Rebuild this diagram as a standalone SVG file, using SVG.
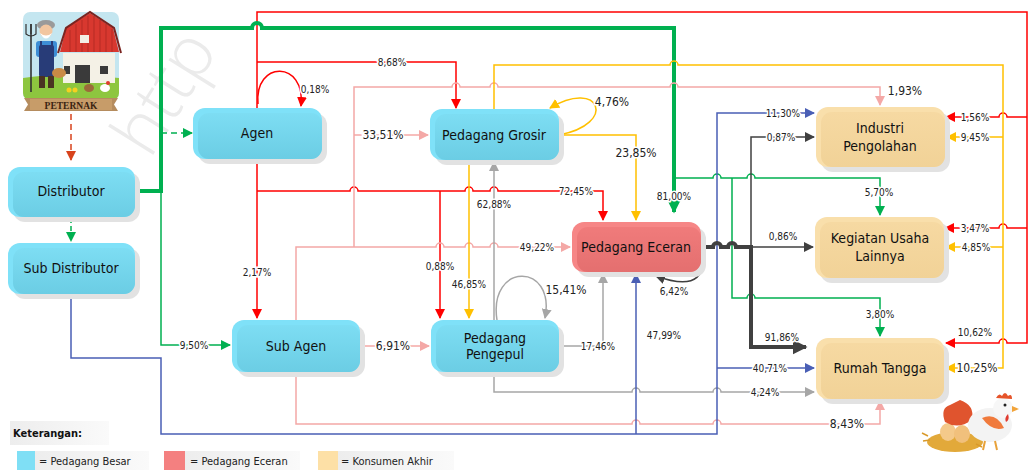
<svg xmlns="http://www.w3.org/2000/svg" width="1030" height="470" viewBox="0 0 1030 470">
  <defs>
    <style>
      .nt { font-family: 'DejaVu Sans Condensed', 'Liberation Sans', sans-serif; font-size: 14px; fill: #111; text-anchor: middle; }
      .lb { font-family: 'DejaVu Sans Condensed', 'Liberation Sans', sans-serif; font-size: 10px; fill: #222; text-anchor: middle; paint-order: stroke; stroke: #fff; stroke-width: 3px; }
      .lb.big { font-size: 12px; }
      .lg { font-family: 'DejaVu Sans Condensed', 'Liberation Sans', sans-serif; font-size: 11px; fill: #222; }
      .c { fill: none; stroke-width: 1.5; stroke-linejoin: miter; }
      .red { stroke: #FF0000; }
      .pink { stroke: #F4A8A6; }
      .yel { stroke: #FFC000; }
      .grn { stroke: #00B050; }
      .gry { stroke: #A6A6A6; }
      .blu { stroke: #4A5FB5; }
      .drk { stroke: #404040; }
      .shadow { fill: #E2E2E2; }
    </style>
    <linearGradient id="gBlue" x1="0" y1="0" x2="0" y2="1">
      <stop offset="0" stop-color="#7DDDF3"/>
      <stop offset="1" stop-color="#6BCDE4"/>
    </linearGradient>
    <linearGradient id="gRed" x1="0" y1="0" x2="0" y2="1">
      <stop offset="0" stop-color="#F07B7B"/>
      <stop offset="1" stop-color="#E46F6F"/>
    </linearGradient>
    <linearGradient id="gTan" x1="0" y1="0" x2="0" y2="1">
      <stop offset="0" stop-color="#F6D9A2"/>
      <stop offset="1" stop-color="#F1D297"/>
    </linearGradient>
    <linearGradient id="gLeg" x1="0" y1="0" x2="1" y2="0">
      <stop offset="0" stop-color="#EDEDED"/>
      <stop offset="1" stop-color="#FAFAFA"/>
    </linearGradient>
    <marker id="mRed" viewBox="0 0 10 10" refX="9" refY="5" markerWidth="10" markerHeight="10" markerUnits="userSpaceOnUse" orient="auto"><path d="M0,0 L10,5 L0,10 z" fill="#FF0000"/></marker>
    <marker id="mPink" viewBox="0 0 10 10" refX="9" refY="5" markerWidth="10" markerHeight="10" markerUnits="userSpaceOnUse" orient="auto"><path d="M0,0 L10,5 L0,10 z" fill="#F4A8A6"/></marker>
    <marker id="mYel" viewBox="0 0 10 10" refX="9" refY="5" markerWidth="10" markerHeight="10" markerUnits="userSpaceOnUse" orient="auto"><path d="M0,0 L10,5 L0,10 z" fill="#FFC000"/></marker>
    <marker id="mGrn" viewBox="0 0 10 10" refX="9" refY="5" markerWidth="10" markerHeight="10" markerUnits="userSpaceOnUse" orient="auto"><path d="M0,0 L10,5 L0,10 z" fill="#00B050"/></marker>
    <marker id="mGry" viewBox="0 0 10 10" refX="9" refY="5" markerWidth="10" markerHeight="10" markerUnits="userSpaceOnUse" orient="auto"><path d="M0,0 L10,5 L0,10 z" fill="#A6A6A6"/></marker>
    <marker id="mBlu" viewBox="0 0 10 10" refX="9" refY="5" markerWidth="10" markerHeight="10" markerUnits="userSpaceOnUse" orient="auto"><path d="M0,0 L10,5 L0,10 z" fill="#4A5FB5"/></marker>
    <marker id="mDrk" viewBox="0 0 10 10" refX="9" refY="5" markerWidth="10" markerHeight="10" markerUnits="userSpaceOnUse" orient="auto"><path d="M0,0 L10,5 L0,10 z" fill="#404040"/></marker>
    <marker id="mOrg" viewBox="0 0 10 10" refX="9" refY="5" markerWidth="10" markerHeight="10" markerUnits="userSpaceOnUse" orient="auto"><path d="M0,0 L10,5 L0,10 z" fill="#D8431C"/></marker>
    <marker id="mGrnBig" viewBox="0 0 10 10" refX="9" refY="5" markerWidth="15" markerHeight="15" markerUnits="userSpaceOnUse" orient="auto"><path d="M0,0 L10,5 L0,10 z" fill="#00B050"/></marker>
    <marker id="mDrkBig" viewBox="0 0 10 10" refX="9" refY="5" markerWidth="15" markerHeight="15" markerUnits="userSpaceOnUse" orient="auto"><path d="M0,0 L10,5 L0,10 z" fill="#404040"/></marker>
  </defs>

  <rect width="1030" height="470" fill="#FFFFFF"/>

  <!-- faint background lettering -->
  <text transform="translate(150,160) rotate(-58)" font-family="'Open Sans', 'Liberation Sans', sans-serif" font-weight="300" font-size="70" fill="#EBEBEB">http</text>

  <!-- farmer badge -->
  <g id="peternak">
    <rect x="23" y="12" width="96" height="88" rx="7" fill="#C4E6F0"/>
    <path d="M23,78 Q60,72 119,78 V93 a7,7 0 0 1 -7,7 H30 a7,7 0 0 1 -7,-7 z" fill="#8DC63F"/>
    <path d="M60,52 L66,28 L90,13 L113,28 L119,52 z" fill="#D8382F"/>
    <path d="M70,30 V52 M76,24 V52 M82,20 V52 M88,16 V52 M94,16 V52 M100,20 V52 M106,24 V52 M112,29 V52" stroke="#B52A24" stroke-width="1"/>
    <path d="M58,53 L66,28 L90,12 L114,28 L121,53" fill="none" stroke="#7A2420" stroke-width="2"/>
    <rect x="80" y="35" width="9" height="8" fill="#F3EFE5"/>
    <rect x="63" y="53" width="52" height="30" fill="#F4F1E6"/>
    <rect x="75" y="65" width="15" height="18" fill="#3A3A3A"/>
    <rect x="100" y="66" width="8" height="8" fill="#3A3A3A"/>
    <rect x="64" y="66" width="6" height="8" fill="#3A3A3A"/>
    <!-- pitchfork -->
    <path d="M31,24 V92" stroke="#333" stroke-width="1.6"/>
    <path d="M26,24 V34 Q31,38 36,34 V24 M31,24 V34" fill="none" stroke="#333" stroke-width="1.2"/>
    <!-- farmer -->
    <ellipse cx="46" cy="25" rx="9" ry="5" fill="#9A9A9A"/>
    <circle cx="46" cy="31" r="6.5" fill="#F2C6A0"/>
    <path d="M40,33 Q46,44 52,33 Q46,38 40,33 z" fill="#FFFFFF"/>
    <rect x="36" y="41" width="21" height="16" rx="3" fill="#3D8ED6"/>
    <rect x="39" y="45" width="15" height="32" rx="2" fill="#283C78"/>
    <path d="M41,41 V47 M52,41 V47" stroke="#283C78" stroke-width="2"/>
    <rect x="39" y="76" width="6" height="12" fill="#4A3322"/>
    <rect x="48" y="76" width="6" height="12" fill="#4A3322"/>
    <ellipse cx="59" cy="73" rx="7" ry="5" fill="#C98A45"/>
    <circle cx="69" cy="90" r="2.5" fill="#F5D020"/>
    <circle cx="75" cy="90" r="2.5" fill="#F5D020"/>
    <ellipse cx="89" cy="88" rx="5" ry="4" fill="#9C6A3A"/>
    <ellipse cx="105" cy="88" rx="5" ry="4" fill="#FFFFFF"/>
    <circle cx="108" cy="83" r="2" fill="#E03A2F"/>
    <!-- ribbon -->
    <path d="M24,98 H118 L114,104.5 L118,111 H24 L28,104.5 z" fill="#B58C5E"/>
    <rect x="30" y="99" width="82" height="11" fill="#C79C69"/>
    <text x="71" y="108.5" text-anchor="middle" font-family="'Liberation Serif', serif" font-weight="bold" font-size="9.5" fill="#3B2412">PETERNAK</text>
  </g>

  <!-- hen on nest -->
  <g id="ayam">
    <ellipse cx="955" cy="442" rx="28" ry="10" fill="#E2A93A"/>
    <path d="M928,436 l-6,-3 M930,440 l-7,1 M980,438 l7,-2 M976,444 l6,3" stroke="#D99A2B" stroke-width="1.5"/>
    <ellipse cx="948" cy="432" rx="8" ry="9" fill="#F4C98A"/>
    <ellipse cx="962" cy="434" rx="8" ry="9" fill="#F1C07C"/>
    <path d="M950,405 Q940,408 945,422 Q958,430 972,420 Q975,405 960,400 z" fill="#E0542E"/>
    <ellipse cx="990" cy="425" rx="22" ry="17" fill="#F3F3F3"/>
    <path d="M982,418 Q996,412 1004,428 Q992,432 982,418 z" fill="#F07A3C"/>
    <circle cx="1003" cy="408" r="10" fill="#F7F7F7"/>
    <path d="M996,398 q3,-6 6,-2 q3,-6 6,0 q4,-3 4,3 z" fill="#E6542A"/>
    <path d="M1012,406 l7,3 l-7,3 z" fill="#F2A43A"/>
    <circle cx="1005" cy="405" r="1.5" fill="#222"/>
    <path d="M1008,414 q2,6 -2,8 q-2,-4 2,-8 z" fill="#E03A2F"/>
    <path d="M985,441 l-2,9 M995,441 l2,9" stroke="#E8A23A" stroke-width="2"/>
  </g>

  <!-- connectors -->
  <g id="connectors">
    <!-- source flows -->
    <path class="c" d="M71,114 V160" stroke="#D8431C" stroke-dasharray="6,4" marker-end="url(#mOrg)"/>
    <path class="c grn" d="M71,218 V241" stroke-dasharray="5,3" marker-end="url(#mGrn)"/>
    <path class="c grn" d="M161,133 H192" stroke-dasharray="6,4" marker-end="url(#mGrn)"/>

    <!-- red: Agen -->
    <path class="c red" d="M257,108 V12 H1027 V343 H1007 a4,4 0 0 0 -8,0 H946" marker-end="url(#mRed)"/>
    <path class="c red" d="M1027,117 H1007 a4,4 0 0 0 -8,0 H946" marker-end="url(#mRed)"/>
    <path class="c red" d="M1027,228 H1007 a4,4 0 0 0 -8,0 H945" marker-end="url(#mRed)"/>
    <path class="c red" d="M257,62 H456 V108" marker-end="url(#mRed)"/>
    <path class="c red" d="M257,158 V318" marker-end="url(#mRed)"/>
    <path class="c red" d="M257,191 H350 a4,4 0 0 1 8,0 H465 a4,4 0 0 1 8,0 H490 a4,4 0 0 1 8,0 H603 V220" marker-end="url(#mRed)"/>
    <path class="c red" d="M440,191 V318" marker-end="url(#mRed)"/>
    <path class="c red" d="M258,104 C254,60 306,60 301,106" marker-end="url(#mRed)"/>

    <!-- thick green: Distributor -->
    <path class="grn" fill="none" stroke-width="4" d="M135,191 H161 V28 H252 a5,5 0 0 1 10,0 H674 V212" marker-end="url(#mGrnBig)"/>
    <path class="c grn" d="M161,191 V345 H230" marker-end="url(#mGrn)"/>
    <path class="c grn" d="M674,178 H713 a4,4 0 0 1 8,0 H747 a4,4 0 0 1 8,0 H880 V215" marker-end="url(#mGrn)"/>
    <path class="c grn" d="M732,178 V298 H747 a4,4 0 0 1 8,0 H880 V336" marker-end="url(#mGrn)"/>

    <!-- pink: Sub Agen -->
    <path class="c pink" d="M296,320 V247 H436 a4,4 0 0 1 8,0 H465 a4,4 0 0 1 8,0 H490 a4,4 0 0 1 8,0 H570" marker-end="url(#mPink)"/>
    <path class="c pink" d="M354,247 V87 H452 a4,4 0 0 1 8,0 H490 a4,4 0 0 1 8,0 H670 a4,4 0 0 1 8,0 H880 V105" marker-end="url(#mPink)"/>
    <path class="c pink" d="M354,135 H428" marker-end="url(#mPink)"/>
    <path class="c pink" d="M360,346 H429" marker-end="url(#mPink)"/>
    <path class="c pink" d="M296,372 V424 H632 a4,4 0 0 1 8,0 H713 a4,4 0 0 1 8,0 H880 V401" marker-end="url(#mPink)"/>

    <!-- yellow: Pedagang Grosir -->
    <path class="c yel" d="M494,110 V65 H670 a4,4 0 0 1 8,0 H1003 V368 H946" marker-end="url(#mYel)"/>
    <path class="c yel" d="M1003,137 H947" marker-end="url(#mYel)"/>
    <path class="c yel" d="M1003,247 H946" marker-end="url(#mYel)"/>
    <path class="c yel" d="M559,135 H636 V220" marker-end="url(#mYel)"/>
    <path class="c yel" d="M469,160 V318" marker-end="url(#mYel)"/>
    <path class="c yel" d="M559,135 C618,124 600,78 550,108" marker-end="url(#mYel)"/>

    <!-- gray: Pedagang Pengepul -->
    <path class="c gry" d="M494,320 V162" marker-end="url(#mGry)"/>
    <path class="c gry" d="M559,346 H603 V274" marker-end="url(#mGry)"/>
    <path class="c gry" d="M494,372 V392 H632 a4,4 0 0 1 8,0 H713 a4,4 0 0 1 8,0 H814" marker-end="url(#mGry)"/>
    <path class="c gry" d="M497,320 C488,262 556,262 545,318" marker-end="url(#mGry)"/>

    <!-- blue: Sub Distributor -->
    <path class="c blu" d="M71,294 V358 H161 V434 H717 V113 H814" marker-end="url(#mBlu)"/>
    <path class="c blu" d="M636,434 V274" marker-end="url(#mBlu)"/>
    <path class="c blu" d="M717,368 H814" marker-end="url(#mBlu)"/>

    <!-- dark: Pedagang Eceran -->
    <path class="drk" fill="none" stroke-width="4" d="M701,247 H713 a4,4 0 0 1 8,0 H728 a4,4 0 0 1 8,0 H751 V347 H806" marker-end="url(#mDrkBig)"/>
    <path class="c drk" d="M751,247 H813" marker-end="url(#mDrk)"/>
    <path class="c drk" d="M751,247 V137 H814" marker-end="url(#mDrk)"/>
    <path class="c drk" d="M701,251 C706,272 700,292 656,276" marker-end="url(#mDrk)"/>

    <!-- percentages -->
    <text class="lb" x="315" y="93">0,18%</text>
    <text class="lb" x="392" y="66">8,68%</text>
    <text class="lb big" x="383" y="139">33,51%</text>
    <text class="lb big" x="612" y="106">4,76%</text>
    <text class="lb big" x="636" y="157">23,85%</text>
    <text class="lb" x="576" y="195">72,45%</text>
    <text class="lb" x="494" y="208">62,88%</text>
    <text class="lb" x="674" y="200">81,00%</text>
    <text class="lb" x="537" y="251">49,22%</text>
    <text class="lb" x="257" y="276">2,17%</text>
    <text class="lb" x="440" y="270">0,88%</text>
    <text class="lb" x="469" y="288">46,85%</text>
    <text class="lb big" x="566" y="294">15,41%</text>
    <text class="lb" x="674" y="295">6,42%</text>
    <text class="lb" x="194" y="349">9,50%</text>
    <text class="lb big" x="393" y="350">6,91%</text>
    <text class="lb" x="598" y="350">17,46%</text>
    <text class="lb" x="664" y="339">47,99%</text>
    <text class="lb big" x="905" y="95">1,93%</text>
    <text class="lb" x="783" y="117">11,30%</text>
    <text class="lb" x="781" y="141">0,87%</text>
    <text class="lb" x="879" y="196">5,70%</text>
    <text class="lb" x="783" y="240">0,86%</text>
    <text class="lb" x="880" y="318">3,80%</text>
    <text class="lb" x="782" y="341">91,86%</text>
    <text class="lb" x="770" y="372">40,71%</text>
    <text class="lb" x="765" y="396">4,24%</text>
    <text class="lb big" x="847" y="428">8,43%</text>
    <text class="lb" x="975" y="121">1,56%</text>
    <text class="lb" x="975" y="141">9,45%</text>
    <text class="lb" x="975" y="232">3,47%</text>
    <text class="lb" x="976" y="251">4,85%</text>
    <text class="lb" x="975" y="336">10,62%</text>
    <text class="lb big" x="977" y="372">10,25%</text>
  </g>

  <!-- wholesale traders -->
  <g id="distributor">
    <rect class="shadow" x="13" y="172" width="127" height="50" rx="12"/>
    <rect x="8" y="167" width="127" height="50" rx="12" fill="#7FE1F8"/>
    <rect x="13" y="172" width="122" height="45" rx="11" fill="url(#gBlue)"/>
    <text class="nt" x="71" y="196">Distributor</text>
  </g>
  <g id="sub-distributor">
    <rect class="shadow" x="13" y="248" width="127" height="51" rx="12"/>
    <rect x="8" y="243" width="127" height="51" rx="12" fill="#7FE1F8"/>
    <rect x="13" y="248" width="122" height="46" rx="11" fill="url(#gBlue)"/>
    <text class="nt" x="71" y="273">Sub Distributor</text>
  </g>
  <g id="agen">
    <rect class="shadow" x="198" y="113" width="129" height="51" rx="12"/>
    <rect x="193" y="108" width="129" height="51" rx="12" fill="#7FE1F8"/>
    <rect x="198" y="113" width="124" height="46" rx="11" fill="url(#gBlue)"/>
    <text class="nt" x="257" y="138">Agen</text>
  </g>
  <g id="pedagang-grosir">
    <rect class="shadow" x="435" y="114" width="129" height="51" rx="12"/>
    <rect x="430" y="109" width="129" height="51" rx="12" fill="#7FE1F8"/>
    <rect x="435" y="114" width="124" height="46" rx="11" fill="url(#gBlue)"/>
    <text class="nt" x="494" y="140">Pedagang Grosir</text>
  </g>
  <g id="sub-agen">
    <rect class="shadow" x="237" y="325" width="128" height="52" rx="12"/>
    <rect x="232" y="320" width="128" height="52" rx="12" fill="#7FE1F8"/>
    <rect x="237" y="325" width="123" height="47" rx="11" fill="url(#gBlue)"/>
    <text class="nt" x="296" y="351">Sub Agen</text>
  </g>
  <g id="pedagang-pengepul">
    <rect class="shadow" x="436" y="325" width="128" height="52" rx="12"/>
    <rect x="431" y="320" width="128" height="52" rx="12" fill="#7FE1F8"/>
    <rect x="436" y="325" width="123" height="47" rx="11" fill="url(#gBlue)"/>
    <text class="nt" x="495" y="343" font-size="13">Pedagang</text>
    <text class="nt" x="495" y="359" font-size="13">Pengepul</text>
  </g>

  <!-- retailer -->
  <g id="pedagang-eceran">
    <rect class="shadow" x="577" y="227" width="129" height="50" rx="12"/>
    <rect x="572" y="222" width="129" height="50" rx="12" fill="#F68686"/>
    <rect x="577" y="227" width="124" height="45" rx="11" fill="url(#gRed)"/>
    <text class="nt" x="636" y="252">Pedagang Eceran</text>
  </g>

  <!-- final consumers -->
  <g id="industri-pengolahan">
    <rect class="shadow" x="821" y="112" width="129" height="60" rx="12"/>
    <rect x="816" y="107" width="129" height="60" rx="12" fill="#F9DFAB"/>
    <rect x="821" y="112" width="124" height="55" rx="11" fill="url(#gTan)"/>
    <text class="nt" x="880" y="133">Industri</text>
    <text class="nt" x="880" y="151">Pengolahan</text>
  </g>
  <g id="kegiatan-usaha-lainnya">
    <rect class="shadow" x="820" y="222" width="129" height="61" rx="12"/>
    <rect x="815" y="217" width="129" height="61" rx="12" fill="#F9DFAB"/>
    <rect x="820" y="222" width="124" height="56" rx="11" fill="url(#gTan)"/>
    <text class="nt" x="880" y="243">Kegiatan Usaha</text>
    <text class="nt" x="880" y="261">Lainnya</text>
  </g>
  <g id="rumah-tangga">
    <rect class="shadow" x="821" y="343" width="128" height="61" rx="12"/>
    <rect x="816" y="338" width="128" height="61" rx="12" fill="#F9DFAB"/>
    <rect x="821" y="343" width="123" height="56" rx="11" fill="url(#gTan)"/>
    <text class="nt" x="880" y="373">Rumah Tangga</text>
  </g>

  <!-- key -->
  <g id="legend">
    <rect x="10" y="421" width="99" height="24" fill="url(#gLeg)"/>
    <text x="13" y="437" font-family="'DejaVu Sans Condensed', 'Liberation Sans', sans-serif" font-size="11" font-weight="bold" fill="#111">Keterangan:</text>
    <rect x="35" y="451" width="114" height="19" fill="url(#gLeg)"/>
    <rect x="17" y="451" width="18" height="19" fill="#7FDFF5"/>
    <text class="lg" x="39" y="465">= Pedagang Besar</text>
    <rect x="185" y="451" width="115" height="19" fill="url(#gLeg)"/>
    <rect x="164" y="451" width="21" height="19" fill="#F48080"/>
    <text class="lg" x="190" y="465">= Pedagang Eceran</text>
    <rect x="338" y="451" width="116" height="19" fill="url(#gLeg)"/>
    <rect x="318" y="451" width="20" height="19" fill="#FDE0A6"/>
    <text class="lg" x="341" y="465">= Konsumen Akhir</text>
  </g>
</svg>
